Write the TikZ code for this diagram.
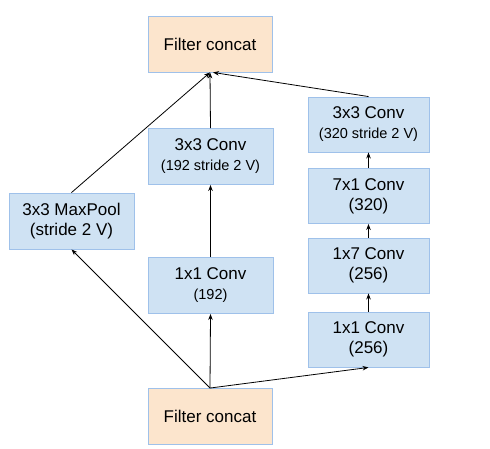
\documentclass[tikz,border=0pt]{standalone}
\usepackage{fontspec}
\setmainfont{Liberation Sans}
\usepackage{xcolor}
\usepackage{tikz}
\usetikzlibrary{arrows.meta}
\usetikzlibrary{positioning}

\definecolor{convblue}{HTML}{CFE2F3}
\definecolor{concatorange}{HTML}{FCE5CD}
\definecolor{edgeblue}{HTML}{9FC1EA}
\newcommand{\subline}[1]{{\fontsize{14.5}{17}\selectfont #1}}

\begin{document}
\begin{tikzpicture}[x=1pt,y=-1pt,
  box/.style={draw=edgeblue,line width=0.9pt,align=center,inner sep=0pt,
    font=\fontsize{17}{20}\selectfont},
  concat/.style={box,fill=concatorange,minimum width=124pt,minimum height=56pt},
  conv/.style={box,fill=convblue,minimum width=125pt,minimum height=56pt},
  narrow/.style={box,fill=convblue,minimum width=121pt,minimum height=55pt},
  arr/.style={-{Stealth[length=6pt,width=4.5pt]},line width=0.8pt}]
\useasboundingbox (0,0) rectangle (490,449);

\node[concat] (top) at (210,44) {Filter concat};
\node[concat] (bot) at (210,416.5) {Filter concat};

% left branch
\node[conv] (pool) at (71.5,221) {3x3 MaxPool\\(stride 2 V)};

% middle branch
\node[conv] (mid1) at (210.5,285.5) {1x1 Conv\\\subline{(192)}};
\node[conv] (mid2) at (210.5,156.5) {3x3 Conv\\\subline{(192 stride 2 V)}};

% right branch
\node[narrow] (r1) at (368.5,339.5) {1x1 Conv\\(256)};
\node[narrow] (r2) at (368.5,265.5) {1x7 Conv\\(256)};
\node[narrow] (r3) at (368.5,196) {7x1 Conv\\(320)};
\node[narrow] (r4) at (368.5,124.5) {3x3 Conv\\\subline{(320 stride 2 V)}};

\draw[arr] (bot.north) -- (pool.south);
\draw[arr] (bot.north) -- (mid1.south);
\draw[arr] (bot.north) -- (r1.south);
\draw[arr] (mid1) -- (mid2);
\draw[arr] (r1) -- (r2);
\draw[arr] (r2) -- (r3);
\draw[arr] (r3) -- (r4);
\draw[arr] (pool.north) -- (top.south);
\draw[arr] (mid2.north) -- (top.south);
\draw[arr] (r4.north) -- ([xshift=3pt]top.south);
\end{tikzpicture}
\end{document}
